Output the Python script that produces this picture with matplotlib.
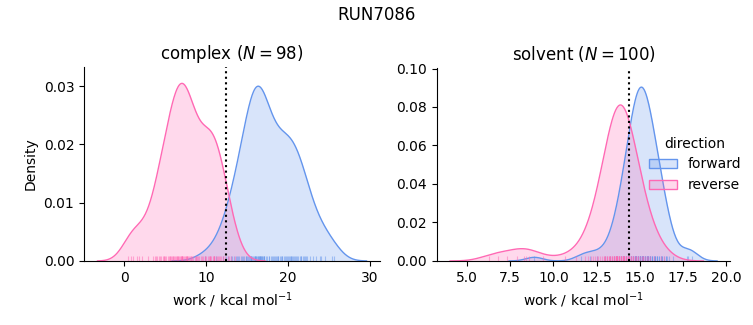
import numpy as np
import matplotlib
matplotlib.use("Agg")
import matplotlib.pyplot as plt
from matplotlib.patches import Patch

# work values (kcal/mol)
complex_reverse = [
    0.4, 0.8, 1.1, 1.5, 1.8, 2.2, 2.9,
    3.5, 3.9, 4.2, 4.5, 4.7, 4.9, 5.1, 5.3, 5.4, 5.6, 5.7, 5.8, 6.0, 6.1,
    6.2, 6.3, 6.4, 6.5, 6.6, 6.7, 6.8, 6.9, 7.0, 7.0, 7.1, 7.2, 7.3, 7.4,
    7.5, 7.6, 7.7, 7.8, 7.9, 8.0, 8.1, 8.3, 8.4, 8.6, 8.7, 8.9,
    9.1, 9.3, 9.5, 9.6, 9.8, 9.9, 10.0, 10.2, 10.3, 10.4, 10.5, 10.6, 10.8,
    10.9, 11.0, 11.2, 11.4, 11.6, 11.8, 12.0, 12.3, 12.6, 13.0, 13.5,
    4.8, 3.8, 4.3, 5.0, 5.6, 6.4, 7.0, 7.5, 8.2, 9.0, 6.9, 7.6, 11.0,
    10.5, 10.9, 11.3, 11.7, 12.1, 4.0, 6.0, 8.8, 12.8,
]
complex_forward = [
    9.8, 11.2, 12.0, 12.6, 13.0, 13.4, 13.7, 14.0, 14.2, 14.4, 14.6, 14.8,
    15.0, 15.1, 15.3, 15.4, 15.5, 15.6, 15.7, 15.8, 15.9, 16.0, 16.1, 16.2,
    16.3, 16.4, 16.5, 16.6, 16.7, 16.8, 16.9, 17.0, 17.1, 17.3, 17.4, 17.6,
    17.7, 17.9, 18.0, 18.2, 18.3, 18.5, 18.7, 18.8, 19.0, 19.2, 19.3, 19.5,
    19.7, 19.8, 20.0, 20.2, 20.3, 20.5, 20.6, 20.8, 21.0, 21.2, 21.4, 21.6,
    21.8, 22.0, 22.3, 22.6, 23.0, 23.4, 23.9, 24.5, 25.3,
    15.2, 15.5, 15.9, 16.1, 16.4, 16.6, 16.8, 12.4, 13.2, 14.5, 13.6, 18.6,
    19.1, 19.6, 20.1, 20.7, 21.1, 21.5, 22.2, 14.9, 16.3, 16.7, 17.0, 13.9,
    20.4, 18.4, 21.9, 24.0, 25.6,
]
solvent_forward = [
    8.9, 11.6, 12.1, 12.5, 13.0, 13.3, 13.5, 13.7, 13.8, 13.9, 14.0, 14.1,
    14.2, 14.3, 14.3, 14.4, 14.4, 14.5, 14.5, 14.6, 14.6, 14.7, 14.7, 14.7,
    14.8, 14.8, 14.8, 14.9, 14.9, 14.9, 15.0, 15.0, 15.0, 15.0, 15.1, 15.1,
    15.1, 15.2, 15.2, 15.2, 15.3, 15.3, 15.3, 15.4, 15.4, 15.5, 15.5, 15.5,
    15.6, 15.6, 15.7, 15.7, 15.8, 15.8, 15.9, 15.9, 16.0, 16.0, 16.1, 16.2,
    16.2, 16.3, 16.4, 16.5, 16.6, 16.7, 16.9, 17.7, 17.8, 18.0,
    13.6, 14.0, 14.2, 14.4, 14.5, 14.6, 14.7, 14.8, 14.9, 15.0, 15.1, 15.2,
    15.3, 15.4, 15.5, 15.6, 15.7, 15.9, 16.1, 16.3, 14.3, 14.8, 15.0, 15.2,
    15.6, 16.0, 14.1, 15.4, 16.5, 13.9,
]
solvent_reverse = [
    6.3, 6.8, 7.3, 7.9, 8.3, 8.4, 8.6, 9.4, 10.7, 11.3, 11.8, 12.2, 12.4,
    12.6, 12.8, 12.9, 13.0, 13.1, 13.1, 13.2, 13.3, 13.4, 13.4, 13.5, 13.5,
    13.6, 13.6, 13.7, 13.7, 13.7, 13.8, 13.8, 13.8, 13.9, 13.9, 13.9, 14.0,
    14.0, 14.0, 14.1, 14.1, 14.2, 14.2, 14.3, 14.3, 14.4, 14.5, 14.5, 14.6,
    14.7, 14.8, 14.9, 15.1, 15.3, 15.5, 15.8, 16.2,
    12.7, 12.9, 13.1, 13.2, 13.3, 13.4, 13.5, 13.6, 13.6, 13.7, 13.8, 13.8,
    13.9, 14.0, 14.1, 14.2, 14.3, 14.4, 14.5, 14.6, 14.8, 15.0, 15.2, 15.4,
    12.5, 13.0, 13.5, 13.7, 13.9, 14.0, 14.2, 14.4, 14.6, 14.9, 15.2, 15.6,
    16.4, 12.3, 13.3, 13.6, 14.1, 14.3, 12.0,
]

phases = ["complex", "solvent"]
n_work = [98, 100]
dg_estimate = [12.36, 14.39]
# share of the total density carried by each direction
density_mass = [{"forward": 0.26, "reverse": 0.25},
                {"forward": 0.232, "reverse": 0.255}]
y_top = [0.0333, 0.1003]

COLORS = {"forward": "cornflowerblue", "reverse": "hotpink"}


def kde(values, mass):
    # gaussian kde, scott bandwidth, cut=3 like seaborn
    x = np.asarray(values, dtype=float)
    bw = x.std(ddof=1) * len(x) ** (-1 / 5)
    grid = np.linspace(x.min() - 3 * bw, x.max() + 3 * bw, 400)
    z = (grid[:, None] - x[None, :]) / bw
    dens = np.exp(-0.5 * z ** 2).sum(axis=1) / (len(x) * bw * np.sqrt(2 * np.pi))
    return grid, dens * mass


fig = plt.figure(figsize=(7.53, 3.25), dpi=100)
ax1 = fig.add_axes([0.1116, 0.197, 0.393, 0.597])
ax2 = fig.add_axes([0.580, 0.197, 0.390, 0.594])

data = [
    {"forward": complex_forward, "reverse": complex_reverse},
    {"forward": solvent_forward, "reverse": solvent_reverse},
]

for ax, phase, n, dg, mass, top, d in zip([ax1, ax2], phases, n_work, dg_estimate,
                                          density_mass, y_top, data):
    for direction in ["forward", "reverse"]:
        c = COLORS[direction]
        grid, dens = kde(d[direction], mass[direction])
        ax.fill_between(grid, 0, dens, color=c, alpha=0.25, lw=0)
        ax.plot(grid, dens, color=c, lw=1)
        ax.vlines(d[direction], 0, 0.025, transform=ax.get_xaxis_transform(),
                  color=c, lw=0.8, alpha=0.5)
    ax.axvline(dg, color="black", ls=":", lw=1.5)
    ax.set_ylim(0, top)
    ax.set_title(f"{phase} ($N = {n}$)", fontsize=12)
    ax.set_xlabel("work / kcal mol$^{-1}$")
    ax.spines["top"].set_visible(False)
    ax.spines["right"].set_visible(False)

ax1.set_ylabel("Density")
ax2.set_xticks([5.0, 7.5, 10.0, 12.5, 15.0, 17.5, 20.0])

handles = [Patch(facecolor=matplotlib.colors.to_rgba(COLORS[k], 0.25), edgecolor=COLORS[k])
           for k in ["forward", "reverse"]]
ax2.legend(handles, ["forward", "reverse"], title="direction", frameon=False,
           loc="center left", bbox_to_anchor=(0.68, 0.5))

fig.suptitle("RUN7086", fontsize=12)
fig.savefig("out.png", dpi=100)
